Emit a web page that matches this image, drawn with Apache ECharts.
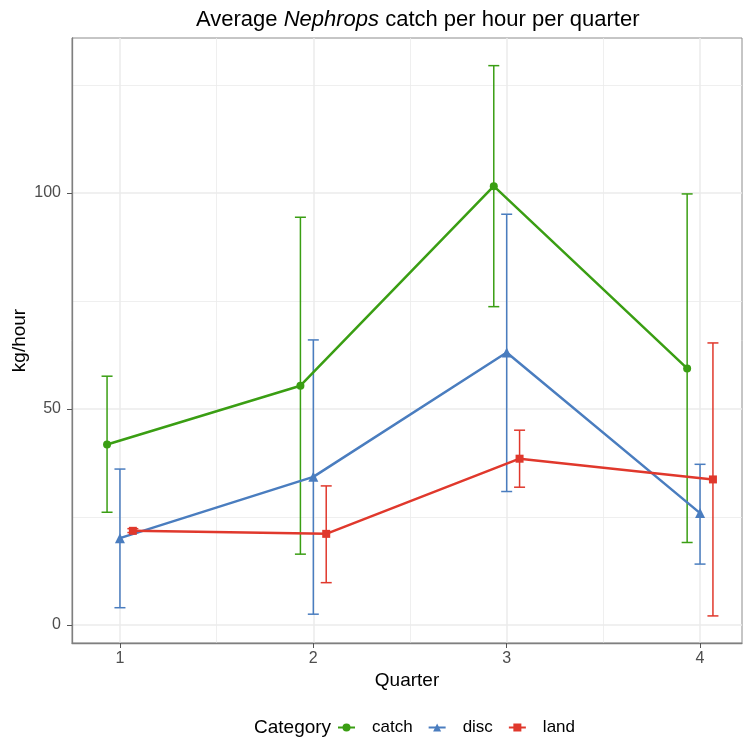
<!DOCTYPE html>
<html>
<head>
<meta charset="utf-8">
<script src="https://cdn.jsdelivr.net/npm/echarts@6/dist/echarts.min.js"></script>
<style>
  html, body { margin: 0; padding: 0; background: #fff; }
  #main { width: 743px; height: 740px; }
</style>
</head>
<body>
<div id="main"></div>
<script>
// data
var quarters = [1, 2, 3, 4];
var categories = ['catch', 'disc', 'land'];
var dodge = [-0.0667, 0, 0.0667];

var catchMean = [41.8, 55.4, 101.6, 59.4];
var catchLow  = [26.1, 16.4, 73.7, 19.1];
var catchHigh = [57.6, 94.4, 129.5, 99.8];

var discMean = [20.1, 34.3, 63.1, 25.9];
var discLow  = [4.0, 2.5, 30.9, 14.1];
var discHigh = [36.1, 66.0, 95.1, 37.2];

var landMean = [21.8, 21.1, 38.5, 33.7];
var landLow  = [21.4, 9.8, 31.9, 2.1];
var landHigh = [22.3, 32.2, 45.1, 65.3];

var xTicks = [1, 2, 3, 4];
var yTicks = [0, 50, 100];
var xMinor = [1.5, 2.5, 3.5];
var yMinor = [25, 75, 125];

var colors = ['#3a9e13', '#4a7dbf', '#e0382c'];
var symbols = ['circle', 'triangle', 'rect'];
var means = [catchMean, discMean, landMean];
var lows = [catchLow, discLow, landLow];
var highs = [catchHigh, discHigh, landHigh];

var font = 'Liberation Sans';
var myChart = echarts.init(document.getElementById('main'));

// gridlines (major + minor)
var gridLines = [];
xTicks.forEach(function (v) { gridLines.push({xAxis: v, lineStyle: {width: 1.5}}); });
xMinor.forEach(function (v) { gridLines.push({xAxis: v, lineStyle: {width: 0.8}}); });
yTicks.forEach(function (v) { gridLines.push({yAxis: v, lineStyle: {width: 1.5}}); });
yMinor.forEach(function (v) { gridLines.push({yAxis: v, lineStyle: {width: 0.8}}); });

var series = [{
    name: 'grid',
    type: 'line',
    data: [],
    z: 0,
    silent: true,
    markLine: {
        z: 0,
        silent: true,
        animation: false,
        symbol: ['none', 'none'],
        label: {show: false},
        lineStyle: {color: '#ebebeb', type: 'solid'},
        data: gridLines
    }
}];

for (var c = 0; c < categories.length; c++) {
    var lineData = [];
    var errData = [];
    for (var i = 0; i < quarters.length; i++) {
        var x = quarters[i] + dodge[c];
        lineData.push([x, means[c][i]]);
        errData.push([x, lows[c][i], highs[c][i]]);
    }
    series.push({
        name: categories[c] + '_err',
        type: 'custom',
        z: 2,
        silent: true,
        data: errData,
        encode: {x: 0, y: [1, 2]},
        renderItem: (function (col) {
            return function (params, api) {
                var lo = api.coord([api.value(0), api.value(1)]);
                var hi = api.coord([api.value(0), api.value(2)]);
                var w = 5.5;
                var st = {stroke: col, lineWidth: 1.5, fill: null};
                return {
                    type: 'group',
                    children: [
                        {type: 'line', shape: {x1: lo[0], y1: lo[1], x2: hi[0], y2: hi[1]}, style: st},
                        {type: 'line', shape: {x1: lo[0] - w, y1: lo[1], x2: lo[0] + w, y2: lo[1]}, style: st},
                        {type: 'line', shape: {x1: hi[0] - w, y1: hi[1], x2: hi[0] + w, y2: hi[1]}, style: st}
                    ]
                };
            };
        })(colors[c])
    });
    series.push({
        name: categories[c],
        type: 'line',
        z: 3,
        data: lineData,
        symbol: symbols[c],
        symbolSize: c === 1 ? 10 : 8,
        showSymbol: true,
        lineStyle: {color: colors[c], width: 2.5},
        itemStyle: {color: colors[c]},
        animation: false
    });
}

myChart.setOption({
    animation: false,
    title: {
        text: '{n|Average }{i|Nephrops}{n| catch per hour per quarter}',
        left: 196,
        top: 0,
        padding: [9, 0, 0, 0],
        textStyle: {
            rich: {
                n: {fontFamily: font, fontSize: 22, fontWeight: 'normal', color: '#000'},
                i: {fontFamily: font, fontSize: 22, fontWeight: 'normal', color: '#000', fontStyle: 'italic'}
            }
        }
    },
    graphic: [{
        type: 'text',
        left: 254,
        top: 718,
        style: {text: 'Category', fontFamily: font, fontSize: 19, fill: '#000'}
    }],
    legend: {
        data: categories,
        left: 337,
        top: 719,
        itemWidth: 17,
        itemHeight: 10,
        itemGap: 15,
        padding: 0,
        textStyle: {fontFamily: font, fontSize: 17, color: '#000', padding: [0, 0, 0, 12]}
    },
    grid: {
        left: 72,
        right: 1,
        top: 38,
        bottom: 97,
        outerBoundsMode: 'none',
        containLabel: false,
        show: true,
        borderColor: '#8c8c8c',
        borderWidth: 1,
        backgroundColor: '#fff'
    },
    xAxis: {
        type: 'value',
        min: 0.752,
        max: 4.217,
        name: 'Quarter',
        nameLocation: 'middle',
        nameGap: 28,
        nameMoveOverlap: false,
        nameTextStyle: {fontFamily: font, fontSize: 19, color: '#000'},
        axisLine: {show: true, onZero: false, lineStyle: {color: '#7f7f7f', width: 1.3}},
        axisTick: {show: true, length: 5, customValues: xTicks, lineStyle: {color: '#555'}},
        axisLabel: {customValues: xTicks, margin: 8, fontFamily: font, fontSize: 16, color: '#4d4d4d'},
        splitLine: {show: false},
        minorSplitLine: {show: false}
    },
    yAxis: {
        type: 'value',
        min: -4.17,
        max: 135.9,
        name: 'kg/hour',
        nameLocation: 'middle',
        nameGap: 43,
        nameMoveOverlap: false,
        nameTextStyle: {fontFamily: font, fontSize: 19, color: '#000'},
        axisLine: {show: true, onZero: false, lineStyle: {color: '#7f7f7f', width: 1.3}},
        axisTick: {show: true, length: 5, customValues: yTicks, lineStyle: {color: '#555'}},
        axisLabel: {customValues: yTicks, margin: 11, fontFamily: font, fontSize: 16, color: '#4d4d4d'},
        splitLine: {show: false}
    },
    series: series
});
</script>
</body>
</html>
